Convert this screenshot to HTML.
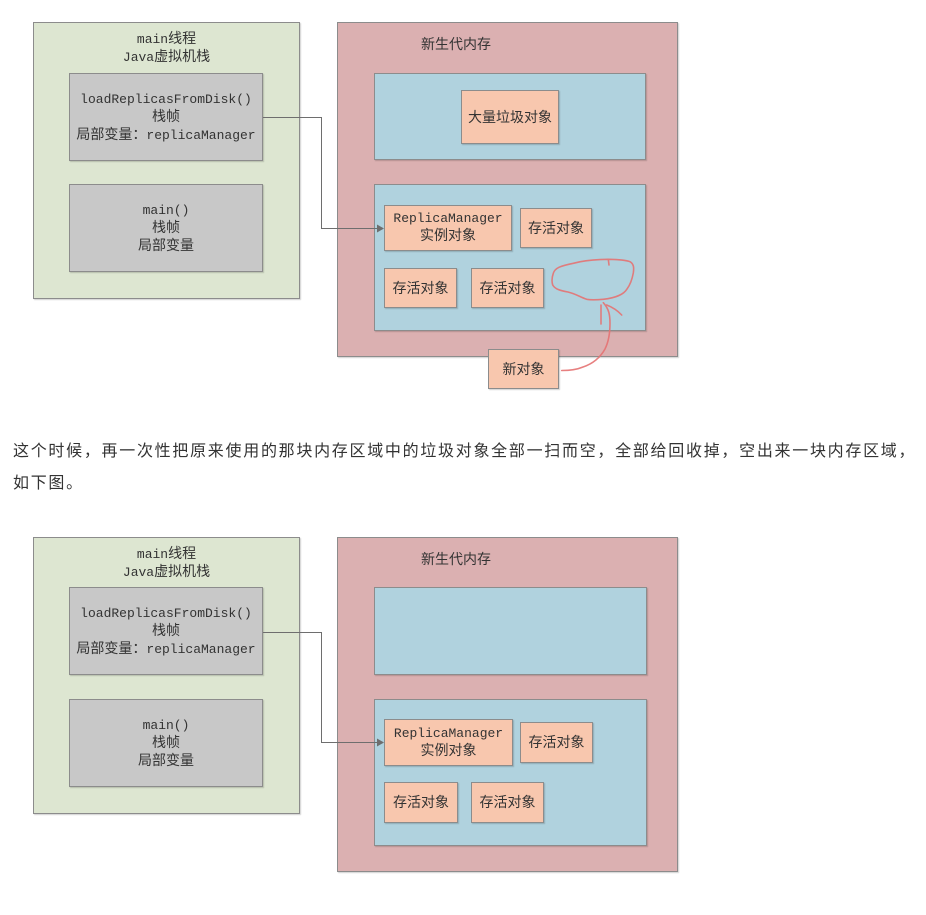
<!DOCTYPE html>
<html><head><meta charset="utf-8">
<style>
html,body{margin:0;padding:0;background:#fff;}
body{width:926px;height:904px;position:relative;overflow:hidden;font-family:"Liberation Mono","Noto Sans CJK SC",monospace;color:#333;}
.dg{position:absolute;left:0;width:926px;height:400px;}
.b{position:absolute;box-sizing:border-box;border:1px solid #8c8c8c;box-shadow:1px 1px 1px rgba(0,0,0,0.18);display:flex;align-items:center;justify-content:center;text-align:center;font-size:13px;line-height:17px;white-space:nowrap;}
.green{background:#dde6d1;}
.gray{background:#c8c8c8;}
.pink{background:#dbb0b1;}
.blue{background:#b0d2de;}
.sal{background:#f8c7ae;}
.t{position:absolute;white-space:nowrap;text-align:center;font-size:13px;line-height:16px;}
.cj{font-family:"Liberation Sans","Noto Sans CJK SC",sans-serif;font-size:14px;}
.title{position:absolute;white-space:nowrap;font-family:"Liberation Sans","Noto Sans CJK SC",sans-serif;font-size:14px;line-height:16px;left:421px;top:36px;}
svg{position:absolute;left:0;top:0;}
.para{position:absolute;left:13px;top:436px;font-family:"Liberation Sans","Noto Sans CJK SC",sans-serif;font-size:16px;letter-spacing:1.71px;line-height:32px;color:#333;white-space:nowrap;}
</style></head><body>

<!-- Diagram 1 -->
<div class="dg" style="top:0">
  <div class="b green" style="left:33px;top:22px;width:267px;height:277px;"></div>
  <div class="t" style="left:33px;top:30px;width:267px;">main<span class="cj">线程</span><br>Java<span class="cj">虚拟机栈</span></div>
  <div class="b gray" style="left:69px;top:73px;width:194px;height:88px;"><div>loadReplicasFromDisk()<br><span class="cj">栈帧</span><br><span class="cj">局部变量：</span>replicaManager</div></div>
  <div class="b gray" style="left:69px;top:184px;width:194px;height:88px;"><div>main()<br><span class="cj">栈帧</span><br><span class="cj">局部变量</span></div></div>

  <div class="b pink" style="left:337px;top:22px;width:341px;height:335px;"></div>
  <div class="title">新生代内存</div>
  <div class="b blue" style="left:374px;top:73px;width:272px;height:87px;"></div>
  <div class="b sal cj" style="left:461px;top:90px;width:98px;height:54px;">大量垃圾对象</div>
  <div class="b blue" style="left:374px;top:184px;width:272px;height:147px;"></div>
  <div class="b sal" style="left:384px;top:205px;width:128px;height:46px;line-height:16px;"><div>ReplicaManager<br><span class="cj">实例对象</span></div></div>
  <div class="b sal cj" style="left:520px;top:208px;width:72px;height:40px;">存活对象</div>
  <div class="b sal cj" style="left:384px;top:268px;width:73px;height:40px;">存活对象</div>
  <div class="b sal cj" style="left:471px;top:268px;width:73px;height:40px;">存活对象</div>
  <div class="b sal cj" style="left:488px;top:349px;width:71px;height:40px;">新对象</div>

  <svg width="926" height="400" viewBox="0 0 926 400">
    <path d="M263 117.5 H321.5 V228.5 H378" fill="none" stroke="#6e6e6e" stroke-width="1"/>
    <polygon points="384,228.5 377,224.5 377,232.5" fill="#6e6e6e"/>
    <g fill="none" stroke="#e57373" stroke-width="1.6" stroke-linecap="round" stroke-linejoin="round" opacity="0.9">
      <path d="M553.3 273.3 C555 268 560 266 573.3 263.3 C582 261 590 260 600 259.6 L608.3 259.3 C618 259.5 626 260 630 261.7 C634 264 634 268 633.3 273 C632 280 630 285 627 289 C624 294 616 298 603.3 299.3 C596 300 590 300 586.7 299.3 C580 297 576 294 568 292 C560 290.7 555 289 552.7 285 C551.5 281 552 277 553.3 273.3 Z"/>
      <path d="M608.3 259.3 L609 265"/>
      <path d="M561.7 370.5 C568 370.5 576 370 583 367 C592 364 600 358 605 349 C609 341 610 332 610 323.3 C610 315 609 309 603.3 302.7"/>
      <path d="M601 305 L601 324"/>
      <path d="M606.7 305 C612 307 617 310 621.7 315"/>
    </g>
  </svg>
</div>

<div class="para">这个时候，再一次性把原来使用的那块内存区域中的垃圾对象全部一扫而空，全部给回收掉，空出来一块内存区域，<br>如下图。</div>

<!-- Diagram 2 -->
<div class="dg" style="top:515px">
  <div class="b green" style="left:33px;top:22px;width:267px;height:277px;"></div>
  <div class="t" style="left:33px;top:30px;width:267px;">main<span class="cj">线程</span><br>Java<span class="cj">虚拟机栈</span></div>
  <div class="b gray" style="left:69px;top:72px;width:194px;height:88px;"><div>loadReplicasFromDisk()<br><span class="cj">栈帧</span><br><span class="cj">局部变量：</span>replicaManager</div></div>
  <div class="b gray" style="left:69px;top:184px;width:194px;height:88px;"><div>main()<br><span class="cj">栈帧</span><br><span class="cj">局部变量</span></div></div>

  <div class="b pink" style="left:337px;top:22px;width:341px;height:335px;"></div>
  <div class="title">新生代内存</div>
  <div class="b blue" style="left:374px;top:72px;width:273px;height:88px;"></div>
  <div class="b blue" style="left:374px;top:184px;width:273px;height:147px;"></div>
  <div class="b sal" style="left:384px;top:204px;width:129px;height:47px;line-height:16px;"><div>ReplicaManager<br><span class="cj">实例对象</span></div></div>
  <div class="b sal cj" style="left:520px;top:207px;width:73px;height:41px;">存活对象</div>
  <div class="b sal cj" style="left:384px;top:267px;width:74px;height:41px;">存活对象</div>
  <div class="b sal cj" style="left:471px;top:267px;width:73px;height:41px;">存活对象</div>

  <svg width="926" height="400" viewBox="0 0 926 400">
    <path d="M263 117.5 H321.5 V227.5 H378" fill="none" stroke="#6e6e6e" stroke-width="1"/>
    <polygon points="384,227.5 377,223.5 377,231.5" fill="#6e6e6e"/>
  </svg>
</div>

</body></html>
